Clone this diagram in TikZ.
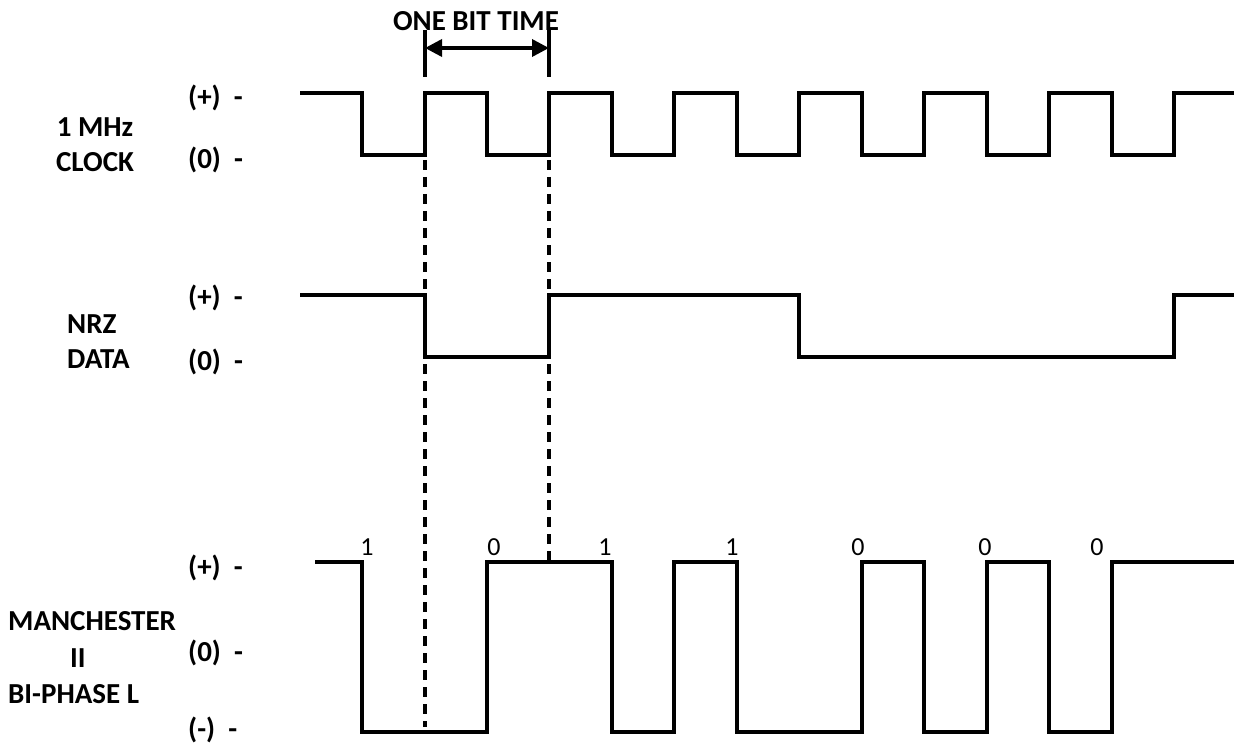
\documentclass[tikz,border=0pt]{standalone}
\usepackage{fontspec}
\setmainfont{Carlito}
\usetikzlibrary{arrows.meta, calc, positioning}
\definecolor{ink}{HTML}{000000}

\begin{document}
\begin{tikzpicture}[
    x=1pt, y=-1pt,
    >={Triangle[length=17pt, width=17pt]},
    every node/.style={text=ink, inner sep=0pt},
  ]

  \useasboundingbox[fill=white] (0,0) rectangle (1234,746);

  % --- Styles ---
  \tikzset{
    wave/.style={draw=ink, line width=3.5pt, line join=miter},
    guide/.style={draw=ink, line width=3.5pt, dash pattern=on 10pt off 7pt},
    tick/.style={draw=ink, line width=3.5pt},
    signame/.style={font=\fontsize{29}{35}\selectfont\bfseries},
    lvl/.style={font=\fontsize{29}{30}\selectfont\bfseries, anchor=west},
    bitval/.style={font=\fontsize{26}{28}\selectfont},
  }

  % --- Bit time boundaries ---
  \coordinate (tA) at (425,30);
  \coordinate (tB) at (549,30);
  \coordinate (tAe) at (425,77);
  \coordinate (tBe) at (549,77);
  \coordinate (aL) at (425,48);
  \coordinate (aR) at (549,48);

  % --- Title of bit time ---
  \node[font=\fontsize{29}{30}\selectfont\bfseries] (bittime) at (476,21) {ONE BIT TIME};
  \draw[tick] (tA) -- (tAe);
  \draw[tick] (tB) -- (tBe);
  \draw[tick, <->] (aL) -- (aR);

  % --- Signal names ---
  \node[signame, align=center] (clkname) at (95,145) {1 MHz\\CLOCK};
  \node[signame, align=left, anchor=west] (nrzname) at (67,342) {NRZ\\DATA};
  \node[signame, align=left, anchor=west, font=\fontsize{29}{36.5}\selectfont\bfseries]
    (manname) at (8,658) {MANCHESTER\\\hspace*{62pt}II\\BI-PHASE L};

  % --- Level labels ---
  \node[lvl] (clkhi) at (188,98)  {(+)\ \ -};
  \node[lvl] (clklo) at (188,160) {(0)\ \ -};
  \node[lvl] (nrzhi) at (188,298) {(+)\ \ -};
  \node[lvl] (nrzlo) at (188,362) {(0)\ \ -};
  \node[lvl] (manhi) at (188,568) {(+)\ \ -};
  \node[lvl] (manmid) at (188,653) {(0)\ \ -};
  \node[lvl] (manlo) at (188,730) {(-)\ \ -};

  % --- Dashed guides ---
  \draw[guide] (425,160) -- (425,727);
  \draw[guide] (549,160) -- (549,562);

  % --- 1 MHz clock ---
  \draw[wave] (300,93) -| (362,155) -| (425,93) -| (487,155) -| (549,93)
    -| (612,155) -| (674,93) -| (737,155) -| (799,93) -| (862,155)
    -| (924,93) -| (987,155) -| (1049,93) -| (1112,155) -| (1174,93)
    -- (1234,93);

  % --- NRZ data ---
  \draw[wave] (300,295) -| (425,357) -| (549,295) -| (799,357)
    -| (1174,295) -- (1234,295);

  % --- Manchester II bi-phase L ---
  \draw[wave] (315,562) -| (362,732) -| (487,562) -| (612,732) -| (674,562)
    -| (737,732) -| (862,562) -| (924,732) -| (987,562) -| (1049,732)
    -| (1112,562) -- (1234,562);

  % --- Bit values ---
  \node[bitval] (b1) at (367,547) {1};
  \node[bitval] (b2) at (494,547) {0};
  \node[bitval] (b3) at (605,547) {1};
  \node[bitval] (b4) at (732,547) {1};
  \node[bitval] (b5) at (858,547) {0};
  \node[bitval] (b6) at (985,547) {0};
  \node[bitval] (b7) at (1097,547) {0};

\end{tikzpicture}
\end{document}
